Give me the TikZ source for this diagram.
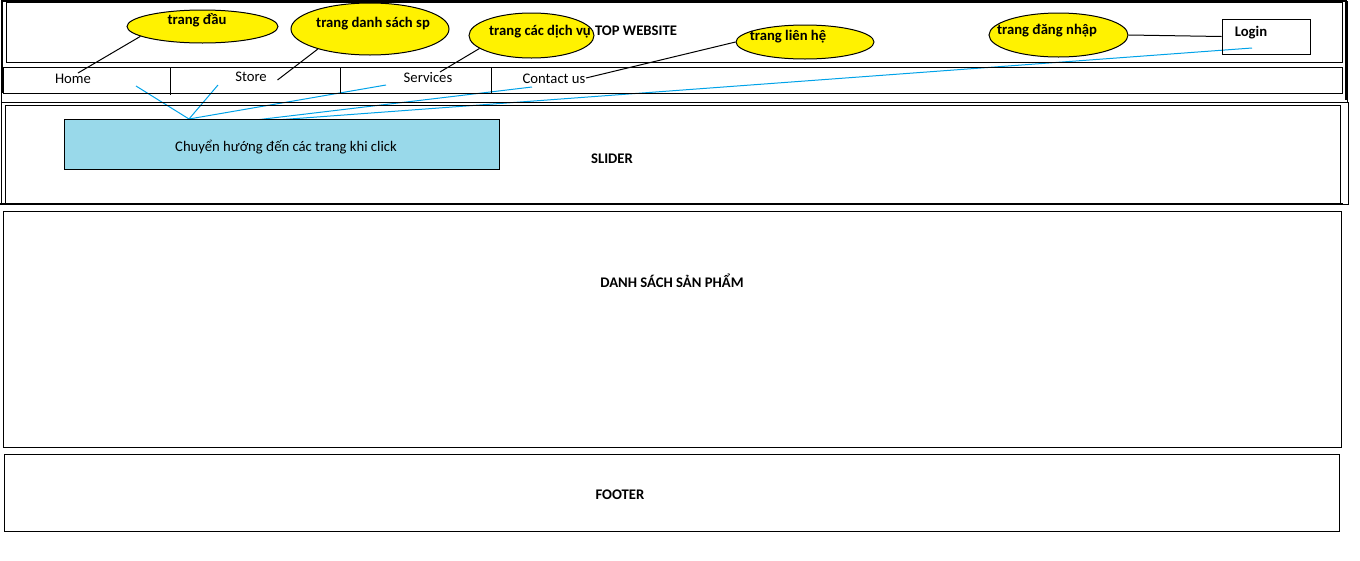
\documentclass[tikz,border=0pt]{standalone}
\usepackage{fontspec}
\setmainfont{Carlito}
\usepackage{xcolor}
\usepackage{tikz}
\usetikzlibrary{shapes.geometric,backgrounds,calc}

\definecolor{bubbleyellow}{RGB}{255,242,0}
\definecolor{linkblue}{RGB}{0,162,232}
\definecolor{notefill}{RGB}{153,217,234}

\begin{document}
\begin{tikzpicture}[x=1pt,y=-1pt,line width=1pt,font=\fontsize{14.67}{17.6}\selectfont]
  \tikzstyle{bubble} = [draw,fill=bubbleyellow,shape=ellipse,inner sep=0pt]
  \tikzstyle{tag} = [font=\fontsize{14.67}{17.6}\selectfont\bfseries,inner sep=0pt]
  \tikzstyle{navitem} = [inner sep=0pt]
  \tikzstyle{box} = [draw,inner sep=0pt]
  \tikzstyle{link} = [draw=linkblue,line width=1pt]
  %
  \useasboundingbox (0,0) rectangle (1360,560);
  % Header frame.
  \draw (1,1) rectangle (1347,102);
  \draw[line width=2pt] (1.5,93) -- (1.5,1) -- (1345.5,1) -- (1345.5,100);
  \draw (6,2) rectangle (1342,62);
  % Menu bar.
  \draw (3,67) rectangle (1342,93);
  \draw (170,67) -- (170,95) (340,67) -- (340,93) (491,67) -- (491,93);
  % Slider, product list and footer.
  \draw (1.5,102) rectangle (1348,204);
  \draw (5,105) rectangle (1340,203);
  \draw[line width=2pt] (0,204) -- (1343,204);
  \draw (3,211) rectangle (1341,447);
  \draw (4,454) rectangle (1339,531);
  %
  \node[tag] (top) at (636,31) {TOP WEBSITE};
  \node[navitem] (home) at (73,79) {Home};
  \node[navitem] (store) at (251,77) {Store};
  \node[navitem] (services) at (428,78) {Services};
  \node[navitem] (contact) at (554,79) {Contact us};
  \node[box,fill=notefill,minimum width=435,minimum height=50] (note) at (281.5,144) {};
  \node[navitem] (notetext) at (286,147) {Chuyển hướng đến các trang khi click};
  \node[tag] (slider) at (612,159) {SLIDER};
  \node[tag] (list) at (672,281) {DANH SÁCH SẢN PHẨM};
  \node[tag] (footer) at (620,495) {FOOTER};
  % Page bubbles.
  \node[bubble,minimum width=151,minimum height=33] (pHome) at (202.5,26.5) {};
  \node[tag] (tHome) at (197,20) {trang đầu};
  \node[bubble,minimum width=158,minimum height=52] (pStore) at (370,29) {};
  \node[tag] (tStore) at (373,24) {trang danh sách sp};
  \node[bubble,minimum width=125,minimum height=45] (pServices) at (531.5,35.5) {};
  \node[tag] (tServices) at (540,32) {trang các dịch vụ};
  \node[bubble,minimum width=138,minimum height=34] (pContact) at (805,42) {};
  \node[tag] (tContact) at (788,37) {trang liên hệ};
  \node[bubble,minimum width=139,minimum height=44] (pLogin) at (1058.5,35) {};
  \node[tag] (tLogin) at (1047,31) {trang đăng nhập};
  \node[box,minimum width=88,minimum height=35] (login) at (1266,36.5) {};
  \node[tag] (logintext) at (1251,33) {Login};
  % Ends of the connectors.
  \coordinate (cHome) at (78,73);
  \coordinate (cStore) at (277.5,80);
  \coordinate (cServices) at (440,72);
  \coordinate (cContact) at (586,78);
  \coordinate (hubA) at (189,119);
  \coordinate (hubB) at (222,124);
  \coordinate (bHome) at (136,86);
  \coordinate (bStore) at (218,85);
  \coordinate (bServices) at (386,85);
  \coordinate (bContact) at (532,87);
  \coordinate (bLogin) at (1252,48);
  % Draw lines.
  \draw (cHome) -- (pHome.189) (cStore) -- (pStore.201.6) (cServices) -- (pServices.194.8)
    (cContact) -- (pContact.west) (pLogin.east) -- (login.west);
  \begin{pgfonlayer}{background}
      \draw[link] (hubA) -- (bHome) (hubA) -- (bStore) (hubA) -- (bServices);
      \draw[link] (hubB) -- (bContact) (hubB) -- (bLogin);
  \end{pgfonlayer}
\end{tikzpicture}
\end{document}
